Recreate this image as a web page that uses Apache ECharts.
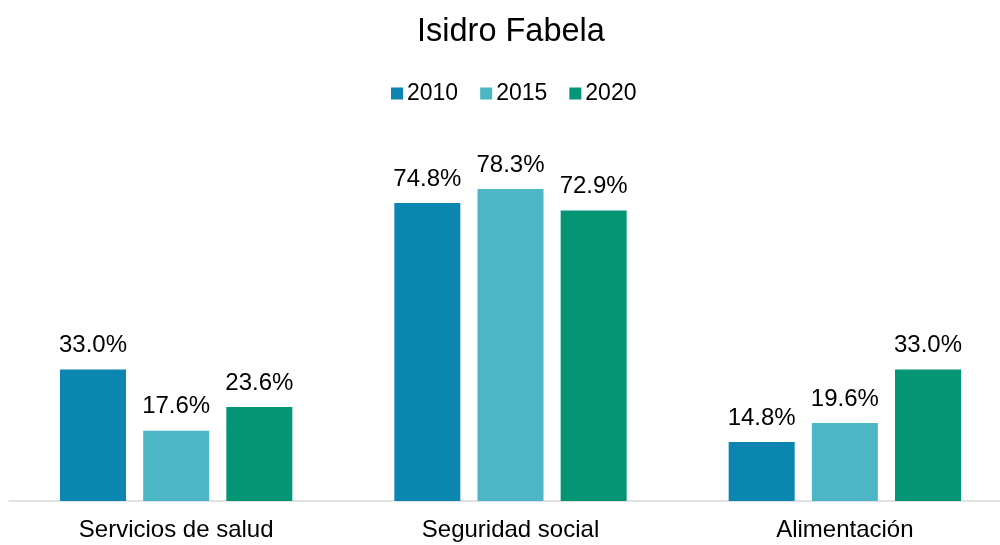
<!DOCTYPE html>
<html>
<head>
<meta charset="utf-8">
<script src="https://cdn.jsdelivr.net/npm/echarts@6/dist/echarts.min.js"></script>
<style>
  html, body { margin: 0; padding: 0; background: #fff; overflow: hidden; }
  #chart { width: 1012px; height: 545px; }
</style>
</head>
<body>
<div id="chart"></div>
<script>
// Carencias sociales por año (porcentaje de la población)
const categories = ['Servicios de salud', 'Seguridad social', 'Alimentación'];
const years = ['2010', '2015', '2020'];
const values2010 = [33.0, 74.8, 14.8];
const values2015 = [17.6, 78.3, 19.6];
const values2020 = [23.6, 72.9, 33.0];
const colors = ['#0B86B0', '#4BB6C6', '#039574'];

const font = 'Liberation Sans, Arial, sans-serif';
const seriesValues = [values2010, values2015, values2020];

// The plot area runs slightly past the right edge of the visible page
const chart = echarts.init(document.getElementById('chart'), null, { renderer: 'canvas' });
chart.setOption({
  animation: false,
  color: colors,
  title: {
    text: 'Isidro Fabela',
    left: 412,
    top: 11,
    textStyle: { fontFamily: font, fontSize: 32.5, fontWeight: 'normal', color: '#000' }
  },
  legend: {
    data: years,
    top: 77,
    left: 386,
    itemWidth: 12,
    itemHeight: 12,
    itemGap: 22,
    icon: 'rect',
    textStyle: { fontFamily: font, fontSize: 23, color: '#000', padding: [0, 0, 0, -1] }
  },
  grid: { left: 9, right: 0, top: 102.5, bottom: 44, containLabel: false },
  xAxis: {
    type: 'category',
    data: categories,
    axisLine: { show: true, lineStyle: { color: '#d9d9d9', width: 1.5 } },
    axisTick: { show: false },
    axisLabel: { fontFamily: font, fontSize: 24, color: '#000', margin: 17 }
  },
  yAxis: {
    type: 'value',
    min: 0,
    max: 100,
    show: false,
    splitLine: { show: false }
  },
  series: years.map((y, i) => ({
    name: y,
    type: 'bar',
    data: seriesValues[i],
    barWidth: 66,
    barGap: '26%',
    label: {
      show: true,
      position: 'top',
      distance: 12,
      fontFamily: font,
      fontSize: 24,
      color: '#000',
      formatter: p => p.value.toFixed(1) + '%'
    }
  }))
});
</script>
</body>
</html>
